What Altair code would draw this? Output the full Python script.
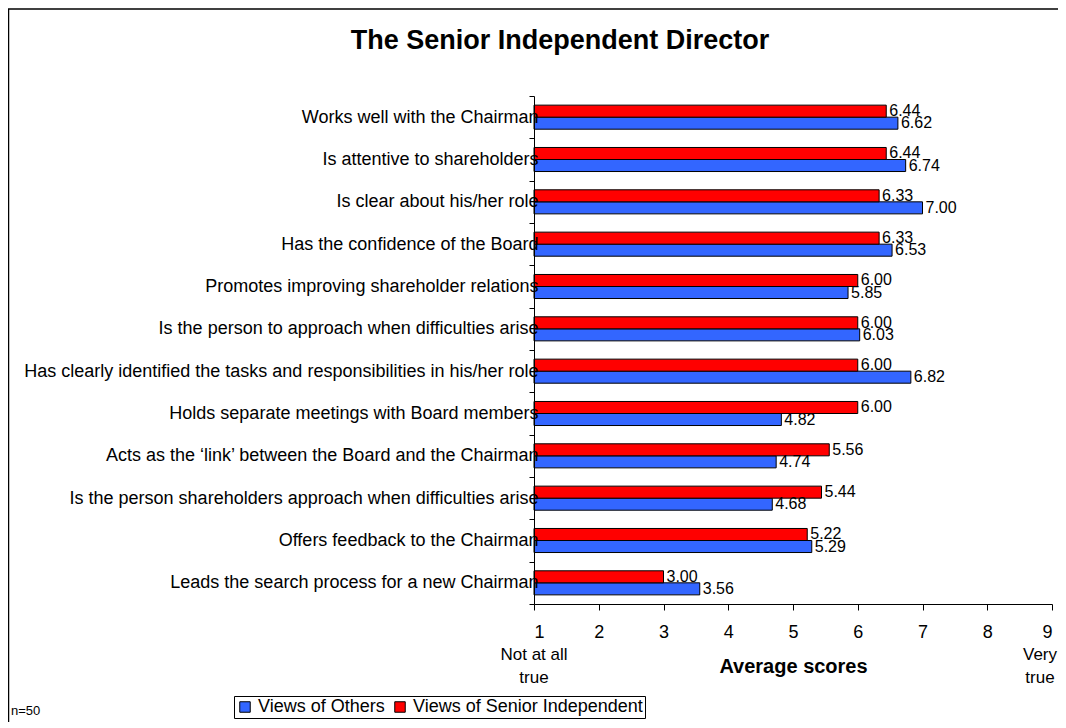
import altair as alt
import pandas as pd

categories = [
    "Works well with the Chairman",
    "Is attentive to shareholders",
    "Is clear about his/her role",
    "Has the confidence of the Board",
    "Promotes improving shareholder relations",
    "Is the person to approach when difficulties arise",
    "Has clearly identified the tasks and responsibilities in his/her role",
    "Holds separate meetings with Board members",
    "Acts as the \u2018link\u2019 between the Board and the Chairman",
    "Is the person shareholders approach when  difficulties arise",
    "Offers feedback to the Chairman",
    "Leads the search process for a new Chairman",
]
views_of_others = [6.62, 6.74, 7.00, 6.53, 5.85, 6.03, 6.82, 4.82, 4.74, 4.68, 5.29, 3.56]
views_of_senior = [6.44, 6.44, 6.33, 6.33, 6.00, 6.00, 6.00, 6.00, 5.56, 5.44, 5.22, 3.00]
series_names = ["Views of Others", "Views of Senior Independent"]
series_colors = ["#3366FF", "#FF0000"]
x_ticks = [1, 2, 3, 4, 5, 6, 7, 8, 9]
chart_title = "The Senior Independent Director"
low_note = "Not at all\ntrue"
high_note = "Very\ntrue"
footnote = "n=50"

rows = []
for c, o, s in zip(categories, views_of_others, views_of_senior):
    rows.append({"category": c, "series": series_names[0], "value": o})
    rows.append({"category": c, "series": series_names[1], "value": s})
df = pd.DataFrame(rows)
df["label"] = df["value"].map(lambda v: f"{v:.2f}")

W, H = 518, 508
FONT = "Liberation Sans"

y_enc = alt.Y(
    "category:N",
    sort=categories,
    scale=alt.Scale(paddingInner=0, paddingOuter=0),
    axis=alt.Axis(
        title=None, tickBand="extent", labelFontSize=18, labelFont=FONT,
        labelColor="black", labelPadding=-9, tickColor="black",
        domainColor="black", tickSize=5, labelLimit=0, zindex=1,
    ),
)
yoff = alt.YOffset(
    "series:N",
    sort=[series_names[1], series_names[0]],
    scale=alt.Scale(paddingOuter=0.76, paddingInner=0),
)
x_enc = alt.X(
    "value:Q",
    scale=alt.Scale(domain=[1, 9], nice=False, zero=False),
    axis=alt.Axis(
        values=x_ticks, title="Average scores", titleFontSize=20,
        titleFontWeight="bold", titleFont=FONT, titleColor="black",
        titleY=62, titleBaseline="middle",
        labelFontSize=18, labelFont=FONT, labelColor="black", labelPadding=13,
        grid=False, tickSize=6, tickColor="black", domainColor="black",
        format="d",
    ),
)
color_enc = alt.Color(
    "series:N",
    scale=alt.Scale(domain=series_names, range=series_colors),
    legend=alt.Legend(
        title=None, orient="none", legendX=-300, legendY=600,
        direction="horizontal", strokeColor="black", padding=2,
        symbolType="square", symbolSize=110, symbolStrokeColor="black",
        symbolStrokeWidth=1, labelFontSize=18, labelFont=FONT,
        labelColor="black", columnPadding=6, symbolOpacity=1,
        fillColor="white", labelLimit=0, labelOffset=4,
    ),
)

bars = alt.Chart(df).mark_bar(stroke="black", strokeWidth=1, opacity=1).encode(
    x=x_enc, x2=alt.datum(1), y=y_enc, yOffset=yoff, color=color_enc
)
labels = alt.Chart(df).mark_text(
    align="left", baseline="middle", dx=3, fontSize=16, font=FONT, color="black"
).encode(x="value:Q", y=alt.Y("category:N", sort=categories), yOffset=yoff, text="label:N")

one = pd.DataFrame({"x": [1]})
nine = pd.DataFrame({"x": [9]})
note_low = alt.Chart(one).mark_text(
    align="center", baseline="middle", fontSize=17, font=FONT, color="black",
    lineBreak="\n", lineHeight=23,
).encode(x="x:Q", y=alt.value(H + 51), text=alt.value(low_note))
note_high = alt.Chart(nine).mark_text(
    align="center", baseline="middle", fontSize=17, font=FONT, color="black",
    lineBreak="\n", lineHeight=23, dx=-12,
).encode(x="x:Q", y=alt.value(H + 51), text=alt.value(high_note))

foot = alt.Chart(one).mark_text(
    align="left", baseline="middle", fontSize=13, font=FONT, color="black"
).encode(x=alt.value(-523), y=alt.value(615), text=alt.value(footnote))

title_mark = alt.Chart(one).mark_text(
    align="center", baseline="alphabetic", fontSize=27, fontWeight="bold",
    font=FONT, color="black",
).encode(x=alt.value(26), y=alt.value(-47), text=alt.value(chart_title))

frame_top = alt.Chart(one).mark_rule(color="#404040", strokeWidth=2).encode(
    x=alt.value(-526), x2=alt.value(530), y=alt.value(-87)
)
frame_left = alt.Chart(one).mark_rule(color="black", strokeWidth=1.5).encode(
    x=alt.value(-525.5), y=alt.value(-87), y2=alt.value(630)
)

chart = alt.layer(
    frame_top, frame_left, bars, labels, note_low, note_high, foot, title_mark
).properties(
    width=W, height=H,
    background="white",
    autosize=alt.AutoSizeParams(type="none"),
    padding={"left": 526, "top": 88, "right": 6, "bottom": 118},
).configure_view(stroke=None)

chart.save("out.html", embed_options={"renderer": "svg", "actions": False})
